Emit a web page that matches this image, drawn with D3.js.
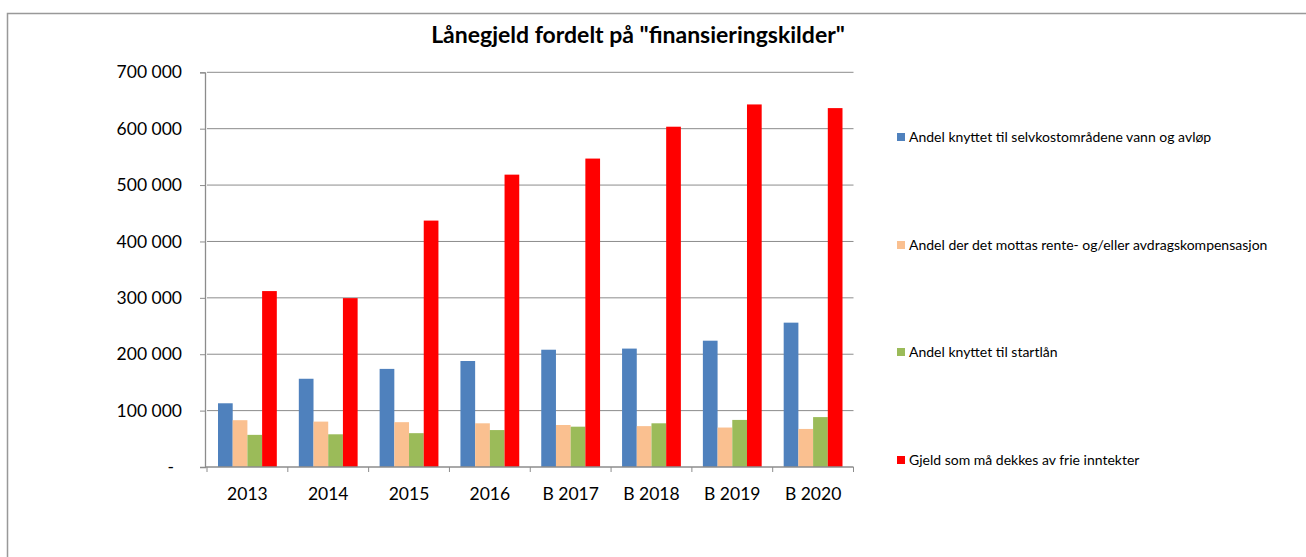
<!DOCTYPE html>
<meta charset="utf-8">
<html>
<head>
    <script src="https://cdn.jsdelivr.net/npm/d3@7"></script>
    <style>
        body { margin: 0; background: #fff; }
        text { font-family: Lato, "Liberation Sans", sans-serif; fill: #000; }
    </style>
</head>
<body>
    <script>
    var years = ["2013", "2014", "2015", "2016", "B 2017", "B 2018", "B 2019", "B 2020"];
    var seriesNames = [
        "Andel knyttet til selvkostområdene vann og avløp",
        "Andel der det mottas rente- og/eller avdragskompensasjon",
        "Andel knyttet til startlån",
        "Gjeld som må dekkes av frie inntekter"
    ];
    var selvkost = [113000, 156500, 174000, 188000, 208000, 210000, 224000, 256000];
    var rentekomp = [83000, 80500, 79500, 77500, 74500, 72500, 70000, 67500];
    var startlan = [57000, 58000, 60000, 65500, 71500, 77500, 83500, 88500];
    var frie = [312000, 299500, 437000, 518500, 547000, 603500, 643000, 636500];
    var colors = ["#4f81bd", "#fac090", "#9bbb59", "#ff0000"];
    var yTicks = [0, 100000, 200000, 300000, 400000, 500000, 600000, 700000];

    var allSeries = [selvkost, rentekomp, startlan, frie];

    var svg = d3.select("body")
        .append("svg")
        .attr("width", 1306)
        .attr("height", 557);

    // chart frame
    svg.append("rect")
        .attr("x", 7.5).attr("y", 13.5)
        .attr("width", 1310).attr("height", 560)
        .attr("fill", "none")
        .attr("stroke", "#999")
        .attr("stroke-width", 1.5);

    svg.append("text")
        .attr("x", 638).attr("y", 43)
        .attr("text-anchor", "middle")
        .attr("font-size", 23)
        .attr("font-weight", "bold")
        .text('Lånegjeld fordelt på "finansieringskilder"');

    var plotL = 207, plotR = 853.5, plotT = 72.3, plotB = 467;

    var xScale = d3.scaleBand()
        .domain(years)
        .range([plotL, plotR]);

    var inner = d3.scaleBand()
        .domain(d3.range(4))
        .range([11, xScale.bandwidth() - 11]);

    var yScale = d3.scaleLinear()
        .domain([0, 700000])
        .range([plotB, plotT]);

    // gridlines
    svg.append("g")
        .selectAll("line")
        .data(yTicks.slice(1))
        .enter()
        .append("line")
        .attr("x1", plotL).attr("x2", plotR)
        .attr("y1", function(d) { return yScale(d); })
        .attr("y2", function(d) { return yScale(d); })
        .attr("stroke", "#8c8c8c")
        .attr("stroke-width", 1);

    // bars
    allSeries.forEach(function(vals, si) {
        svg.append("g")
            .selectAll("rect")
            .data(vals)
            .enter()
            .append("rect")
            .attr("x", function(d, i) { return xScale(years[i]) + inner(si); })
            .attr("y", function(d) { return yScale(d); })
            .attr("width", inner.bandwidth())
            .attr("height", function(d) { return plotB - yScale(d); })
            .attr("fill", colors[si]);
    });

    // y axis
    var fmt = function(d) { return d === 0 ? "-" : d3.format(",")(d).replace(/,/g, " "); };
    var yAxis = svg.append("g")
        .attr("transform", "translate(" + (plotL - 2) + ",0)")
        .call(d3.axisLeft(yScale).tickValues(yTicks).tickFormat(fmt).tickSize(5).tickPadding(18));
    yAxis.select(".domain").attr("stroke", "#8c8c8c").attr("stroke-width", 1.3);
    yAxis.selectAll(".tick line").attr("stroke", "#8c8c8c");
    yAxis.selectAll("text").attr("font-size", 17.5).attr("fill", "#000")
        .attr("font-family", "Lato, sans-serif");
    // accounting style dash for zero sits a bit further left
    yAxis.selectAll(".tick text")
        .filter(function(d) { return d === 0; })
        .attr("dx", -8);

    // x axis
    var xAxis = svg.append("g")
        .attr("transform", "translate(0," + plotB + ")");
    xAxis.append("line")
        .attr("x1", plotL - 2).attr("x2", plotR)
        .attr("y1", 0).attr("y2", 0)
        .attr("stroke", "#8c8c8c").attr("stroke-width", 1.3);
    xAxis.selectAll("line.tk")
        .data(years.concat(["end"]))
        .enter()
        .append("line")
        .attr("class", "tk")
        .attr("x1", function(d, i) { return plotL + i * xScale.bandwidth(); })
        .attr("x2", function(d, i) { return plotL + i * xScale.bandwidth(); })
        .attr("y1", 0).attr("y2", 5)
        .attr("stroke", "#8c8c8c");
    xAxis.selectAll("text")
        .data(years)
        .enter()
        .append("text")
        .attr("x", function(d) { return xScale(d) + xScale.bandwidth() / 2; })
        .attr("y", 33)
        .attr("text-anchor", "middle")
        .attr("font-size", 17.5)
        .text(function(d) { return d; });

    // legend
    var legendY = [137, 245, 352, 460];
    var legend = svg.append("g")
        .selectAll("g")
        .data(seriesNames)
        .enter()
        .append("g")
        .attr("transform", function(d, i) { return "translate(897," + legendY[i] + ")"; });
    legend.append("rect")
        .attr("x", 0).attr("y", -4)
        .attr("width", 8).attr("height", 8)
        .attr("fill", function(d, i) { return colors[i]; });
    legend.append("text")
        .attr("x", 12).attr("y", 5)
        .attr("font-size", 14)
        .text(function(d) { return d; });
    </script>
</body>
</html>
